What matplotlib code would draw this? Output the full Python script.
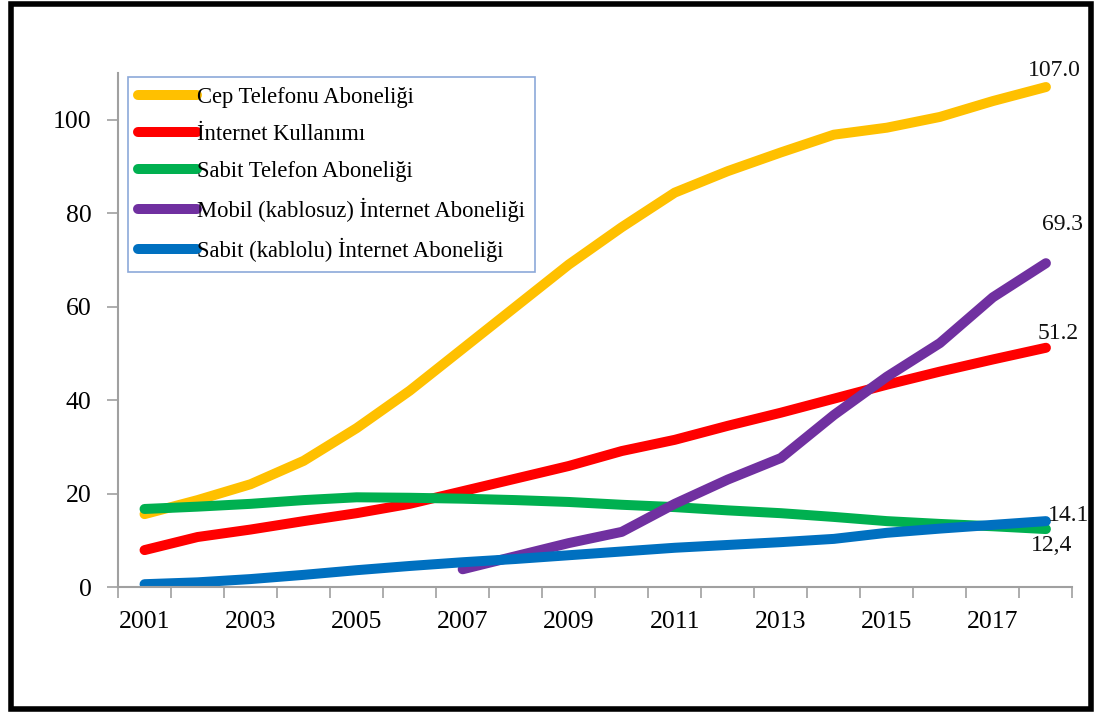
import numpy as np
import matplotlib.pyplot as plt
from matplotlib.patches import Rectangle

plt.rcParams['font.family'] = ['Liberation Serif', 'DejaVu Serif']

years = list(range(2001, 2019))

cep_telefonu = [15.6, 18.6, 22.0, 27.0, 34.0, 42.0, 51.0, 60.0, 69.0, 77.0,
                84.4, 89.0, 93.0, 96.8, 98.3, 100.6, 104.0, 107.0]
internet_kullanimi = [7.9, 10.7, 12.3, 14.1, 15.8, 17.8, 20.5, 23.2, 25.9, 29.1,
                      31.5, 34.5, 37.3, 40.3, 43.3, 46.1, 48.7, 51.2]
sabit_telefon = [16.7, 17.2, 17.8, 18.6, 19.2, 19.1, 18.9, 18.6, 18.2, 17.6,
                 17.1, 16.4, 15.8, 15.0, 14.1, 13.5, 13.0, 12.4]
mobil_internet = [None] * 6 + [3.8, 6.6, 9.4, 11.8, 17.8, 23.0, 27.6, 36.8,
                               45.0, 52.2, 62.0, 69.3]
sabit_internet = [0.6, 1.0, 1.7, 2.6, 3.6, 4.5, 5.3, 6.0, 6.8, 7.6,
                  8.4, 9.0, 9.6, 10.3, 11.6, 12.5, 13.3, 14.1]

series = [
    ("Cep Telefonu Aboneliği", cep_telefonu, "#FFC000"),
    ("İnternet Kullanımı", internet_kullanimi, "#FF0000"),
    ("Sabit Telefon Aboneliği", sabit_telefon, "#00B050"),
    ("Mobil (kablosuz) İnternet Aboneliği", mobil_internet, "#7030A0"),
    ("Sabit (kablolu) İnternet Aboneliği", sabit_internet, "#0070C0"),
]

end_labels = ["107.0", "51.2", "12,4", "69.3", "14.1"]
label_offsets = [(6, 12), (9, 10), (4, -12), (12, 28), (16, 4)]

fig = plt.figure(figsize=(10.97, 7.13), dpi=100)
ax = fig.add_axes([0.1076, 0.1767, 0.8700, 0.7209])

x = np.arange(len(years))
for name, vals, color in series:
    y = np.array([np.nan if v is None else v for v in vals], dtype=float)
    ax.plot(x, y, color=color, lw=7.2, solid_capstyle='round',
            solid_joinstyle='round', label=name)

for (name, vals, color), txt, off in zip(series, end_labels, label_offsets):
    ax.annotate(txt, (x[-1], vals[-1]), xytext=off, textcoords='offset points',
                ha='center', va='center', fontsize=17, color='#111111')

ax.set_xlim(-0.5, len(years) - 0.5)
ax.set_ylim(0, 110)

# category axis: ticks on boundaries, labels centred on every other year
ax.set_xticks(np.arange(-0.5, len(years), 1.0))
ax.set_xticklabels([])
ax.set_xticks(x[::2], minor=True)
ax.set_xticklabels([str(yr) for yr in years[::2]], minor=True)
ax.tick_params(axis='x', which='major', length=8, width=1.2, color='#A0A0A0')
ax.tick_params(axis='x', which='minor', length=0, pad=17, labelsize=18.5)

ax.set_yticks([0, 20, 40, 60, 80, 100])
ax.tick_params(axis='y', length=8, width=1.2, color='#A0A0A0', pad=11,
               labelsize=18.5)

for s in ['top', 'right']:
    ax.spines[s].set_visible(False)
for s in ['left', 'bottom']:
    ax.spines[s].set_color('#A0A0A0')
    ax.spines[s].set_linewidth(1.5)

leg = ax.legend(loc='upper left', bbox_to_anchor=(0.0105, 0.992),
                borderaxespad=0, fontsize=16.3, handlelength=2.6,
                handletextpad=0.0, labelspacing=0.7, borderpad=0.45,
                fancybox=False, frameon=True)
leg.get_frame().set_edgecolor('#6F93D0')
leg.get_frame().set_linewidth(1.2)
for line in leg.get_lines():
    line.set_linewidth(7.2)

# outer frame around the whole figure
fig.patches.append(Rectangle((11 / 1097, 4 / 713), 1080 / 1097, 705 / 713,
                             transform=fig.transFigure, fill=False,
                             edgecolor='black', lw=4))

fig.savefig('out.png', dpi=100)
